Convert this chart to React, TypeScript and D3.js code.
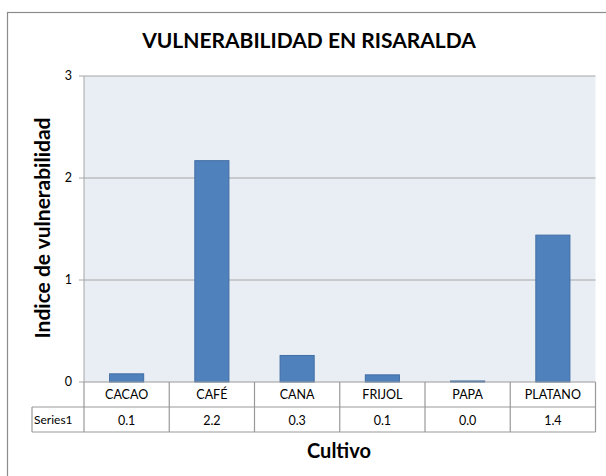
import React from "react";
import * as d3 from "d3";

const categories = ["CACAO", "CAFÉ", "CANA", "FRIJOL", "PAPA", "PLATANO"];
const values = [0.08, 2.17, 0.26, 0.07, 0.01, 1.44];
const yTicks = [0, 1, 2, 3];
const seriesName = "Series1";
const title = "VULNERABILIDAD EN RISARALDA";
const yTitle = "Indice de vulnerabilidad";
const xTitle = "Cultivo";

const W = 606;
const H = 476;
const FONT = "Lato, 'Open Sans', sans-serif";

export default function App() {
  const left = 84;
  const right = 595.5;
  const top = 76;
  const bottom = 382;
  const x = d3.scaleBand<string>().domain(categories).range([left, right]).paddingInner(0.6).paddingOuter(0.3);
  const xb = d3.scaleBand<string>().domain(categories).range([left, right]);
  const y = d3.scaleLinear().domain([0, 3]).range([bottom, top]);
  const row1 = bottom + 25;
  const row2 = 432;
  const gridColor = "#a6a6a6";
  const tableColor = "#999999";
  const yMid = 228;

  return (
    <svg width={W} height={H} style={{ position: "absolute", left: 0, top: 0 }} fontFamily={FONT}>
      <rect x={0} y={0} width={W} height={H} fill="#fff" />
      <rect x={7.5} y={12.5} width={W + 20} height={H + 20} fill="none" stroke="#8c8c8c" strokeWidth={1.2} />
      <text x={309} y={48} textAnchor="middle" fontSize={21} fontWeight="bold" fill="#000">{title}</text>
      <rect x={left} y={top} width={right - left} height={bottom - top} fill="#e9edf4" />
      {yTicks.map((t) => (
        <g key={t}>
          {t > 0 && <line x1={left} x2={right} y1={y(t)} y2={y(t)} stroke={gridColor} strokeWidth={1} />}
          <line x1={79} x2={left} y1={y(t)} y2={y(t)} stroke={gridColor} strokeWidth={1} />
          <text x={72} y={y(t) + 4} textAnchor="end" fontSize={12.5} fill="#000">{t}</text>
        </g>
      ))}
      <line x1={left} x2={left} y1={top} y2={bottom} stroke={gridColor} strokeWidth={1} />
      {categories.map((c, i) => (
        <rect key={c} x={x(c)} y={y(values[i])} width={x.bandwidth()} height={bottom - y(values[i])} fill="#4f81bd" stroke="#416ea3" strokeWidth={1} />
      ))}
      {/* table */}
      <line x1={left} x2={right} y1={bottom} y2={bottom} stroke={tableColor} strokeWidth={1.2} />
      <line x1={32} x2={right} y1={row1} y2={row1} stroke={tableColor} strokeWidth={1.2} />
      <line x1={32} x2={right} y1={row2} y2={row2} stroke={tableColor} strokeWidth={1.2} />
      <line x1={32} x2={32} y1={row1} y2={row2} stroke={tableColor} strokeWidth={1.2} />
      <line x1={left} x2={left} y1={bottom} y2={row2} stroke={tableColor} strokeWidth={1.2} />
      {categories.map((c, i) => (
        <g key={c}>
          <line x1={(xb(c) as number) + xb.bandwidth()} x2={(xb(c) as number) + xb.bandwidth()} y1={bottom} y2={row2} stroke={tableColor} strokeWidth={1.2} />
          <text x={(xb(c) as number) + xb.bandwidth() / 2} y={bottom + 17} textAnchor="middle" fontSize={12.5} fill="#000">{c}</text>
          <text x={(xb(c) as number) + xb.bandwidth() / 2} y={row1 + 18} textAnchor="middle" fontSize={12.5} fill="#000">{values[i].toFixed(1)}</text>
        </g>
      ))}
      <text x={34} y={row1 + 17} fontSize={12} fill="#000">{seriesName}</text>
      <text x={50} y={yMid} textAnchor="middle" fontSize={21} fontWeight="bold" fill="#000" transform={`rotate(-90, 50, ${yMid})`}>{yTitle}</text>
      <text x={339} y={458} textAnchor="middle" fontSize={20} fontWeight="bold" fill="#000">{xTitle}</text>
    </svg>
  );
}
